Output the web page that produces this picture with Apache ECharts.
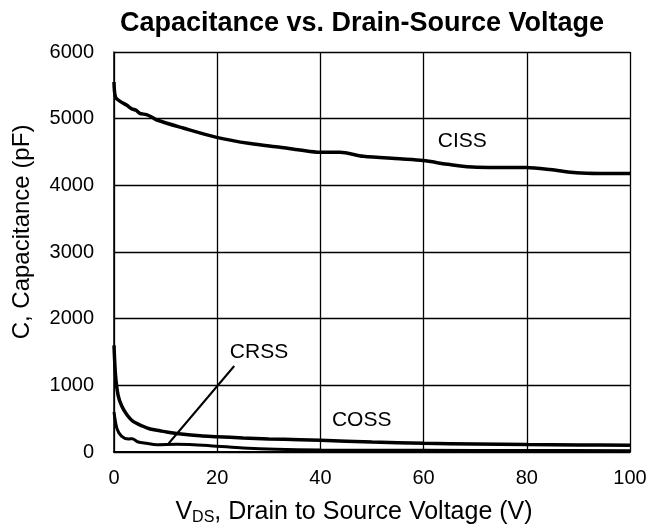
<!DOCTYPE html>
<html>
<head>
<meta charset="utf-8">
<script src="https://cdn.jsdelivr.net/npm/echarts@6/dist/echarts.min.js"></script>
<style>html,body{margin:0;padding:0;background:#fff}#c{width:650px;height:530px}</style>
</head>
<body>
<div id="c"></div>
<script>
var xTicks = [0, 20, 40, 60, 80, 100];
var yTicks = [0, 1000, 2000, 3000, 4000, 5000, 6000];

var cissX = [0, 0.3, 1.2, 2.5, 3.4, 4.3, 5.0, 6.3, 7.3, 8.3, 13.4, 19.9, 26.4, 32.2, 36, 39.9, 43.8, 48.3, 55.4, 59.9, 65.1, 70.3, 75, 79.9, 84.5, 89.6, 94.2, 100];
var cissY = [5550, 5320, 5260, 5200, 5150, 5125, 5080, 5060, 5025, 4980, 4860, 4720, 4626, 4570, 4530, 4496, 4496, 4436, 4397, 4371, 4311, 4271, 4268, 4266, 4236, 4187, 4177, 4177];

var cossX = [0, 0.3, 0.8, 1.5, 2.5, 3.7, 5.5, 7, 8.9, 10.2, 13, 16.7, 20, 25, 30, 36, 40, 50, 60, 70, 80, 90, 100];
var cossY = [1600, 1150, 850, 690, 560, 460, 390, 345, 318, 300, 270, 243, 230, 210, 195, 185, 175, 150, 130, 120, 112, 106, 100];

var crssX = [0, 0.6, 1.5, 2.8, 3.5, 4.7, 6.3, 8.3, 12.1, 18.6, 25, 31.5, 40, 60, 80, 100];
var crssY = [600, 345, 235, 195, 200, 150, 130, 110, 115, 95, 60, 40, 30, 25, 22, 20];

var leaderX = [10.5, 23.3];
var leaderY = [120, 1290];

var labelNames = ['CISS', 'COSS', 'CRSS'];
var labelX = [67.5, 48, 28.1];
var labelY = [4660, 473, 1500];

function pairs(xs, ys) { return xs.map(function (x, i) { return [x, ys[i]]; }); }

var FONT = 'Liberation Sans, Arial, sans-serif';
var chart = echarts.init(document.getElementById('c'), null, { renderer: 'canvas' });
var lineStyle = { color: '#000', width: 3.5 };
chart.setOption({
  animation: false,
  title: {
    text: 'Capacitance vs. Drain-Source Voltage',
    left: 357, top: 5, textAlign: 'center',
    textStyle: { fontFamily: FONT, fontWeight: 'bold', fontSize: 27, color: '#000' }
  },
  grid: { left: 114, right: 20, top: 52, bottom: 78, containLabel: false, outerBoundsMode: 'none' },
  xAxis: {
    type: 'value', min: 0, max: 100, interval: 20,
    name: '{v|V}{s|DS}{v|, Drain to Source Voltage (V)}',
    nameLocation: 'middle', nameGap: 46,
    nameTextStyle: { padding: [0, 36, 0, 0], rich: { v: { fontFamily: FONT, fontSize: 25, color: '#000' }, s: { fontFamily: FONT, fontSize: 16, color: '#000', verticalAlign: 'bottom', padding: [12, 0, 0, 0] } } },
    axisLine: { show: true, lineStyle: { color: '#000', width: 2 } },
    axisTick: { show: false },
    axisLabel: { color: '#000', fontFamily: FONT, fontSize: 20, margin: 16 },
    splitLine: { show: true, lineStyle: { color: '#000', width: 1.3 } }
  },
  yAxis: {
    type: 'value', min: 0, max: 6000, interval: 1000,
    name: 'C, Capacitance (pF)',
    nameLocation: 'middle', nameGap: 80,
    nameTextStyle: { fontFamily: FONT, fontSize: 24, color: '#000', padding: [0, 0, 0, 40] },
    axisLine: { show: true, lineStyle: { color: '#000', width: 1.5 } },
    axisTick: { show: false },
    axisLabel: { color: '#000', fontFamily: FONT, fontSize: 20, margin: 20, formatter: function (v) { return String(v); } },
    splitLine: { show: true, lineStyle: { color: '#000', width: 1.3 } }
  },
  series: [
    { type: 'line', name: 'CISS', data: pairs(cissX, cissY), showSymbol: false, smooth: 0.3, lineStyle: lineStyle },
    { type: 'line', name: 'COSS', data: pairs(cossX, cossY), showSymbol: false, smooth: 0.3, lineStyle: lineStyle },
    { type: 'line', name: 'CRSS', data: pairs(crssX, crssY), showSymbol: false, smooth: 0.3, lineStyle: { color: '#000', width: 3 } },
    { type: 'line', name: 'leader', data: pairs(leaderX, leaderY), showSymbol: false, lineStyle: { color: '#000', width: 2 } },
    {
      type: 'scatter', symbolSize: 0,
      itemStyle: { opacity: 1, color: '#000' },
      data: labelNames.map(function (n, i) { return { name: n, value: [labelX[i], labelY[i]] }; }),
      label: { show: true, position: 'inside', formatter: '{b}', color: '#000', textBorderWidth: 0, textBorderColor: 'transparent', fontFamily: FONT, fontSize: 21 }
    }
  ]
});
</script>
</body>
</html>
